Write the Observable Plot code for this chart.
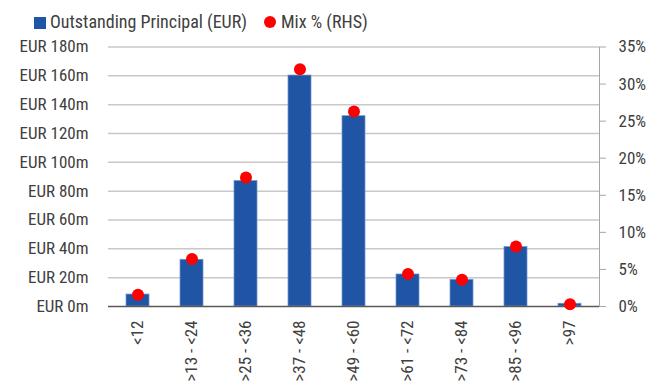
<!DOCTYPE html>
<html><head><meta charset="utf-8">
<script src="https://cdn.jsdelivr.net/npm/d3@7"></script>
<script src="https://cdn.jsdelivr.net/npm/@observablehq/plot@0.6"></script>
<style>
body{margin:0;background:#fff;font-family:"Liberation Sans Narrow","Roboto Condensed","Roboto",sans-serif;}
#legend{position:relative;height:36px;width:667px;color:#404040;font-size:18px;}
#legend .sq{position:absolute;left:34px;top:17px;width:12px;height:12px;background:#1F55A4;}
#legend .ci{position:absolute;left:264px;top:16px;width:12px;height:12px;border-radius:50%;background:#FF0000;}
#legend .t1{position:absolute;left:50px;top:12px;line-height:20px;}
#legend .t2{position:absolute;left:281px;top:12px;line-height:20px;}
</style></head><body>
<div id="legend"></div>
<div id="chart"></div>
<script>
const categories = ["<12", ">13 - <24", ">25 - <36", ">37 - <48", ">49 - <60", ">61 - <72", ">73 - <84", ">85 - <96", ">97"];
const principalEURm = [8.3, 32.4, 87, 160.2, 132, 22.2, 18.5, 41.2, 1.9];
const mixPct = [1.6, 6.4, 17.4, 32.0, 26.3, 4.4, 3.6, 8.1, 0.3];
const leftTicks = [0, 20, 40, 60, 80, 100, 120, 140, 160, 180];
const rightTicks = [0, 5, 10, 15, 20, 25, 30, 35];
const seriesNames = ["Outstanding Principal (EUR)", "Mix % (RHS)"];

const leg = document.getElementById("legend");
leg.innerHTML = `<div class="sq"></div><div class="t1">${seriesNames[0]}</div><div class="ci"></div><div class="t2">${seriesNames[1]}</div>`;

const k = 180 / 35;
const data = categories.map((c, i) => ({cat: c, val: principalEURm[i], pct: mixPct[i]}));

const chart = Plot.plot({
  width: 667,
  height: 354,
  marginTop: 10.5,
  marginBottom: 84,
  marginLeft: 108,
  marginRight: 68,
  style: {fontSize: "17px", fontFamily: '"Liberation Sans Narrow","Roboto Condensed","Roboto",sans-serif', color: "#404040", background: "#fff"},
  x: {domain: categories, paddingInner: 0.58, paddingOuter: 0.29, label: null},
  y: {domain: [0, 180], label: null},
  marks: [
    Plot.ruleY(leftTicks.filter(v => v > 0), {stroke: "#c8c8c8", strokeWidth: 1.5}),
    Plot.barY(data, {x: "cat", y: "val", fill: "#1F55A4", stroke: "#6f95cc", strokeWidth: 0.75}),
    Plot.ruleY([0], {stroke: "#595959", strokeWidth: 1.5}),
    Plot.frame({anchor: "right", stroke: "#a6a6a6"}),
    Plot.dot(data, {x: "cat", y: d => d.pct * k, r: 6, fill: "#FF0000"}),
    Plot.axisY({anchor: "left", ticks: leftTicks, tickSize: 0, tickPadding: 20, tickFormat: d => `EUR ${d}m`, label: null}),
    Plot.axisY({anchor: "right", ticks: rightTicks.map(p => p * k), tickSize: 6, tickPadding: 13, stroke: "#a6a6a6", tickFormat: v => Math.round(v / k) + "%", label: null}),
    Plot.axisX({tickRotate: -90, tickSize: 0, tickPadding: 14, label: null})
  ]
});
document.getElementById("chart").appendChild(chart);
</script>
</body></html>
